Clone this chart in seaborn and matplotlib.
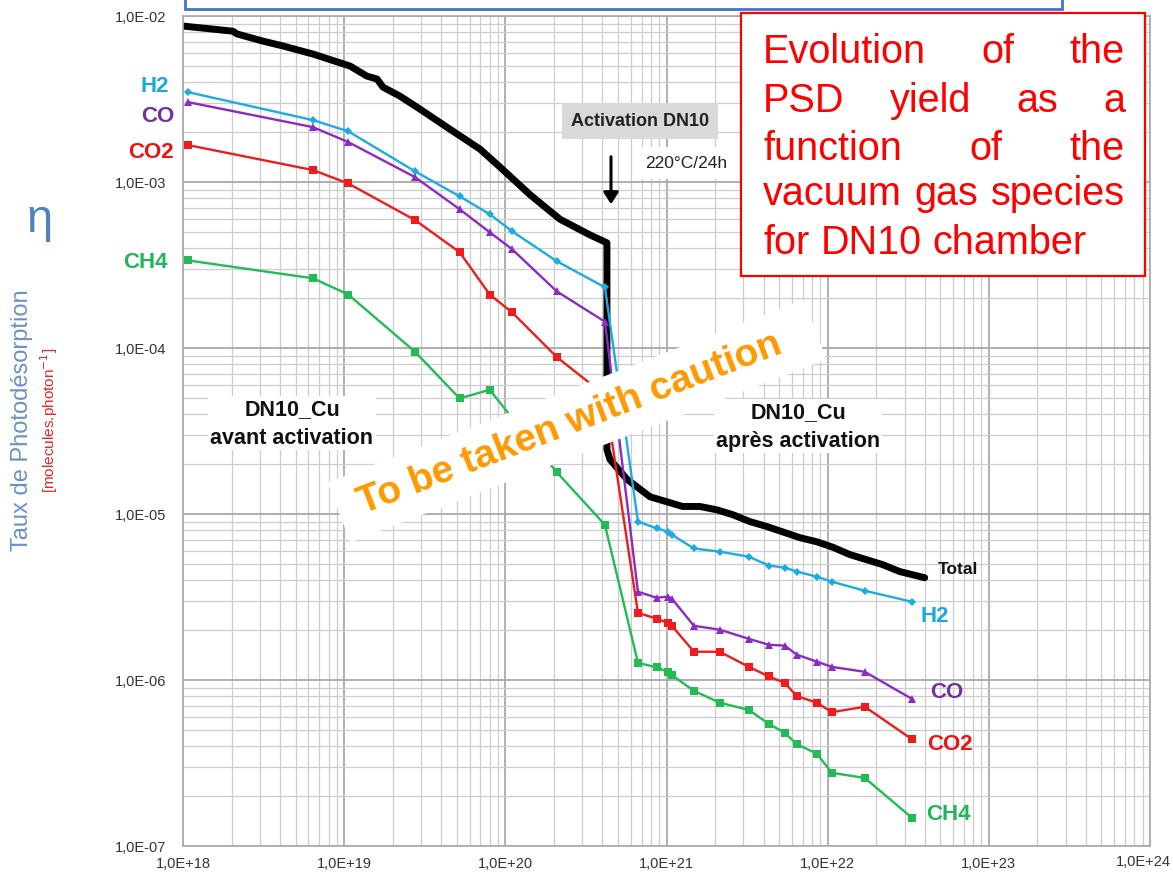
import numpy as np
import pandas as pd
import matplotlib
matplotlib.use("Agg")
import matplotlib.pyplot as plt
import seaborn as sns
from matplotlib.ticker import FixedLocator, FuncFormatter, NullFormatter
from matplotlib.patches import Rectangle, FancyArrowPatch, Polygon
from matplotlib.font_manager import FontProperties

# ---------------- data ----------------
dose = [1.07e18, 6.4e18, 1.06e19, 2.75e19, 5.2e19, 8.0e19, 1.1e20, 2.09e20, 4.15e20,
        6.65e20, 8.7e20, 1.02e21, 1.08e21, 1.48e21, 2.14e21, 3.24e21, 4.32e21,
        5.42e21, 6.44e21, 8.57e21, 1.06e22, 1.7e22, 3.33e22]
h2 = [3.48e-3, 2.36e-3, 2.02e-3, 1.16e-3, 8.2e-4, 6.4e-4, 5.05e-4, 3.33e-4, 2.32e-4,
      9.0e-6, 8.2e-6, 7.83e-6, 7.5e-6, 6.2e-6, 5.93e-6, 5.53e-6, 4.89e-6,
      4.75e-6, 4.5e-6, 4.19e-6, 3.91e-6, 3.45e-6, 2.96e-6]
co = [3.03e-3, 2.14e-3, 1.74e-3, 1.07e-3, 6.86e-4, 4.98e-4, 3.94e-4, 2.19e-4, 1.44e-4,
      3.4e-6, 3.13e-6, 3.18e-6, 3.09e-6, 2.12e-6, 2.01e-6, 1.77e-6, 1.63e-6,
      1.61e-6, 1.42e-6, 1.29e-6, 1.2e-6, 1.12e-6, 7.7e-7]
co2 = [1.67e-3, 1.18e-3, 9.8e-4, 5.9e-4, 3.78e-4, 2.1e-4, 1.64e-4, 8.8e-5, 5.2e-5,
       2.54e-6, 2.34e-6, 2.21e-6, 2.12e-6, 1.48e-6, 1.48e-6, 1.2e-6, 1.05e-6,
       9.6e-7, 8.0e-7, 7.3e-7, 6.4e-7, 6.9e-7, 4.4e-7]
ch4 = [3.37e-4, 2.63e-4, 2.1e-4, 9.5e-5, 4.97e-5, 5.6e-5, 3.8e-5, 1.78e-5, 8.6e-6,
       1.27e-6, 1.19e-6, 1.12e-6, 1.07e-6, 8.6e-7, 7.3e-7, 6.6e-7, 5.44e-7,
       4.8e-7, 4.1e-7, 3.6e-7, 2.76e-7, 2.57e-7, 1.48e-7]

dose_total = [1.0e18, 2.04e18, 2.16e18, 3.13e18, 4.17e18, 6.4e18, 9.0e18, 1.09e19, 1.38e19,
              1.6e19, 1.74e19, 2.22e19, 2.95e19, 4.53e19, 6.95e19, 9.27e19, 1.42e20,
              2.18e20, 3.35e20, 4.27e20, 4.27e20, 4.46e20, 5.68e20, 7.9e20, 1.26e21,
              1.61e21, 2.05e21, 2.58e21, 3.29e21, 4.2e21, 5.27e21, 6.73e21, 8.57e21,
              1.08e22, 1.37e22, 1.75e22, 2.2e22, 2.8e22, 4.0e22]
total = [8.7e-3, 8.1e-3, 7.8e-3, 7.06e-3, 6.6e-3, 5.9e-3, 5.3e-3, 4.99e-3, 4.35e-3,
         4.17e-3, 3.73e-3, 3.29e-3, 2.75e-3, 2.08e-3, 1.58e-3, 1.23e-3, 8.4e-4,
         5.97e-4, 4.8e-4, 4.3e-4, 2.44e-5, 2.13e-5, 1.62e-5, 1.27e-5, 1.11e-5,
         1.11e-5, 1.06e-5, 9.9e-6, 9.0e-6, 8.4e-6, 7.8e-6, 7.2e-6, 6.8e-6,
         6.3e-6, 5.7e-6, 5.3e-6, 4.95e-6, 4.5e-6, 4.13e-6]

species = ["H2", "CO", "CO2", "CH4"]
y_decades = [1e-7, 1e-6, 1e-5, 1e-4, 1e-3, 1e-2]
x_decades = [1e18, 1e19, 1e20, 1e21, 1e22, 1e23, 1e24]

# ---------------- styling ----------------
sns.set_style("white")
plt.rcParams["font.family"] = ["Liberation Sans", "DejaVu Sans"]

W, H = 1173, 879
fig = plt.figure(figsize=(W / 100, H / 100), dpi=100)
fig.patch.set_facecolor("white")


def F(px, py):
    return (px / W, 1 - py / H)


ax_l, ax_r, ax_t, ax_b = 183, 1150, 17, 847
ax = fig.add_axes([ax_l / W, 1 - ax_b / H, (ax_r - ax_l) / W, (ax_b - ax_t) / H])
ax.set_xscale("log")
ax.set_yscale("log")

colors = {"H2": "#1cabe2", "CO": "#8a2bc4", "CO2": "#ee1c1c", "CH4": "#22bb55"}
lab_colors = {"H2": "#1ca7de", "CO": "#7030a0", "CO2": "#ee1111", "CH4": "#1fb55a"}
markers = {"H2": ("D", 4.5), "CO": ("^", 6), "CO2": ("s", 6), "CH4": ("s", 5.5)}
values = {"H2": h2, "CO": co, "CO2": co2, "CH4": ch4}

sns.lineplot(x=np.array(dose_total), y=np.array(total), ax=ax, color="black",
             linewidth=5, sort=False, estimator=None, zorder=2.5,
             solid_joinstyle="round", solid_capstyle="round")
for sp in species:
    m, ms = markers[sp]
    sns.lineplot(x=np.array(dose), y=np.array(values[sp]), ax=ax, color=colors[sp],
                 marker=m, markersize=ms, markeredgewidth=0, linewidth=1.7,
                 sort=False, estimator=None, zorder=3)

ax.set_xlim(x_decades[0], x_decades[-1])
ax.set_ylim(y_decades[0], y_decades[-1])
ax.set_xlabel("")
ax.set_ylabel("")


def dec_label(v):
    return "1,0E{:+03d}".format(int(round(np.log10(v))))


ax.xaxis.set_major_locator(FixedLocator(x_decades))
ax.yaxis.set_major_locator(FixedLocator(y_decades))
ax.xaxis.set_minor_locator(FixedLocator([d * k for d in x_decades[:-1] for k in range(2, 10)]))
ax.yaxis.set_minor_locator(FixedLocator([d * k for d in y_decades[:-1] for k in range(2, 10)]))
# last x label is drawn separately (slightly shifted so it stays inside the figure)
ax.xaxis.set_major_formatter(FuncFormatter(lambda v, _: "" if v >= x_decades[-1] else dec_label(v)))
ax.yaxis.set_major_formatter(FuncFormatter(lambda v, _: dec_label(v)))
ax.xaxis.set_minor_formatter(NullFormatter())
ax.yaxis.set_minor_formatter(NullFormatter())
ax.tick_params(which="both", length=0)
ax.tick_params(axis="y", pad=12, labelsize=10.5, labelcolor="#333333")
ax.tick_params(axis="x", pad=7, labelsize=10.5, labelcolor="#333333")
ax.grid(which="major", color="#a9a9a9", linewidth=1.3)
ax.grid(which="minor", color="#cdcdcd", linewidth=0.9)
ax.set_axisbelow(True)
for s in ax.spines.values():
    s.set_color("#a9a9a9")
    s.set_linewidth(1.2)

fig.text(1171 / W, 1 - 862 / H, dec_label(x_decades[-1]), fontsize=10.5, color="#333333",
         ha="right", va="center")

# ---------------- boxes at the top ----------------
blue = Rectangle(F(185, 10), (1062 - 185) / W, 20 / H, transform=fig.transFigure,
                 facecolor="white", edgecolor="#4472c4", linewidth=2, clip_on=False, zorder=10)
fig.patches.append(blue)
x0, y0 = F(741, 277)
red = Rectangle((x0, y0), (1145 - 741) / W, (277 - 14) / H, transform=fig.transFigure,
                facecolor="white", edgecolor="#ff0000", linewidth=1.6, clip_on=False, zorder=10)
fig.patches.append(red)

# justified red text
lines = [("Evolution of the", 63, True), ("PSD yield as a", 112, True),
         ("function of the", 160, True), ("vacuum gas species", 205, True),
         ("for DN10 chamber", 254, False)]
fig.canvas.draw()
rend = fig.canvas.get_renderer()
prop = FontProperties(family="Liberation Sans", size=28.5)


def text_w(s):
    w, h, d = rend.get_text_width_height_descent(s, prop, ismath=False)
    return w


space_w = text_w("a a") - text_w("aa")
tleft, tright = 763, 1125
for txt, base, just in lines:
    words = txt.split()
    widths = [text_w(w) for w in words]
    if just and len(words) > 1:
        gap = (tright - tleft - sum(widths)) / (len(words) - 1)
    else:
        gap = space_w
    xpos = tleft
    for w, wd in zip(words, widths):
        fig.text(*F(xpos, base), w, fontproperties=prop, color="#ff0000",
                 ha="left", va="baseline", zorder=11)
        xpos += wd + gap

# ---------------- annotations ----------------
fig.text(*F(640, 122), "Activation DN10", fontsize=13, fontweight="bold", color="#222222",
         ha="center", va="center", zorder=11,
         bbox=dict(boxstyle="square,pad=0.5", facecolor="#d9d9d9", edgecolor="none"))
fig.text(*F(645, 164), "220°C/24h", fontsize=12.5, color="#222222", ha="left", va="center",
         zorder=11, bbox=dict(boxstyle="square,pad=0.5", facecolor="white", edgecolor="none"))
arr = FancyArrowPatch(F(611, 155), F(611, 208), transform=fig.transFigure,
                      arrowstyle="-|>,head_length=7,head_width=4.5", color="black",
                      linewidth=2.2, zorder=11)
fig.patches.append(arr)

fig.text(*F(292, 424), "DN10_Cu\navant activation", fontsize=15.5, fontweight="bold",
         color="#111111", ha="center", va="center", linespacing=1.45, zorder=5,
         bbox=dict(boxstyle="square,pad=0.1", facecolor="white", edgecolor="none"))
fig.text(*F(798, 427), "DN10_Cu\naprès activation", fontsize=15.5, fontweight="bold",
         color="#111111", ha="center", va="center", linespacing=1.45, zorder=5,
         bbox=dict(boxstyle="square,pad=0.1", facecolor="white", edgecolor="none"))

# series labels
left_pos = {"H2": (155, 87), "CO": (158, 116), "CO2": (151, 152), "CH4": (145, 263)}
right_pos = {"H2": (935, 617), "CO": (947, 693), "CO2": (950, 744), "CH4": (948, 815)}
for sp in species:
    fig.text(*F(*left_pos[sp]), sp, fontsize=16, fontweight="bold", color=lab_colors[sp],
             ha="center", va="center")
    fig.text(*F(*right_pos[sp]), sp, fontsize=16, fontweight="bold", color=lab_colors[sp],
             ha="center", va="center")
fig.text(*F(958, 569), "Total", fontsize=12.5, fontweight="bold", color="#111111",
         ha="center", va="center")

# y-axis title
fig.text(*F(40, 220), "η", fontsize=34, color="#4f81bd", family="Liberation Sans",
         ha="center", va="center")
fig.text(*F(22, 420), "Taux de Photodésorption", fontsize=17, color="#6a91c8",
         family="Liberation Sans", rotation=90, ha="center", va="center")
fig.text(*F(49, 420), r"[molecules.photon$^{-1}$]", fontsize=11, color="#ee2222",
         family="Liberation Sans", rotation=90, ha="center", va="center")

# caution banner (white rotated band + orange text)
ang = np.deg2rad(21.0)
cx, cy, L, Wd = 577, 422, 510, 64
u = np.array([np.cos(ang), -np.sin(ang)])
v = np.array([np.sin(ang), np.cos(ang)])
c = np.array([cx, cy])
corners = [c - u * L / 2 - v * Wd / 2, c + u * L / 2 - v * Wd / 2,
           c + u * L / 2 + v * Wd / 2, c - u * L / 2 + v * Wd / 2]
band = Polygon([F(*p) for p in corners], closed=True, transform=fig.transFigure,
               facecolor="white", edgecolor="none", zorder=8)
fig.patches.append(band)
fig.text(*F(570, 424), "To be taken with caution", fontsize=28, fontweight="bold",
         color="#ff9900", family="Liberation Sans", rotation=21, rotation_mode="anchor",
         ha="center", va="center", zorder=9)

fig.savefig("out.png", dpi=100, facecolor="white")
